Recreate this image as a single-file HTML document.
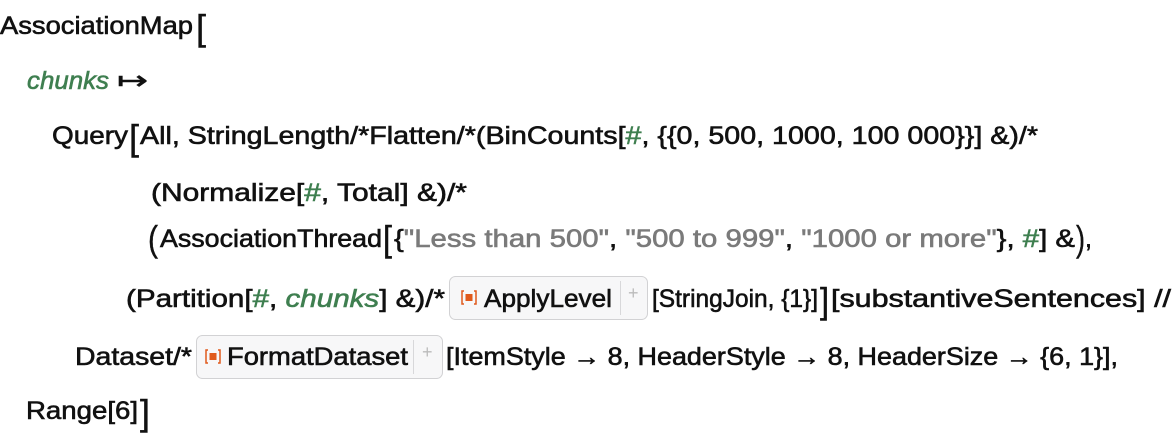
<!DOCTYPE html>
<html><head><style>
html,body{margin:0;padding:0;background:#fff;width:1176px;height:442px;overflow:hidden}
svg{display:block}
text{font-family:"Liberation Sans",sans-serif;font-size:25px;fill:#111;stroke:#111;stroke-width:0.6}
.g{fill:#3f7f50;stroke:#3f7f50;font-style:italic}
.h{fill:#3f7f50;stroke:#3f7f50}
.s{fill:#7a7a7a;stroke:#7a7a7a}
.b{font-size:36px;stroke-width:0.4}
.p{fill:#bbb;stroke:none;font-size:18px}
</style></head><body>
<svg width="1176" height="442" viewBox="0 0 1176 442">
<text x="0" y="34" textLength="193" lengthAdjust="spacingAndGlyphs">AssociationMap</text>
<text x="196" y="40" class="b" textLength="10" lengthAdjust="spacingAndGlyphs">[</text>

<text x="27" y="89" class="g" textLength="82" lengthAdjust="spacingAndGlyphs">chunks</text>
<text x="117" y="89" textLength="31" lengthAdjust="spacingAndGlyphs">↦</text>

<text x="52" y="144" textLength="76" lengthAdjust="spacingAndGlyphs">Query</text>
<text x="129" y="150" class="b" textLength="10" lengthAdjust="spacingAndGlyphs">[</text>
<text x="140" y="144" textLength="898" lengthAdjust="spacingAndGlyphs">All, StringLength/*Flatten/*(BinCounts[<tspan class="h">#</tspan>, {{0, 500, 1000, 100 000}}] &amp;)/*</text>

<text x="151" y="201" textLength="316" lengthAdjust="spacingAndGlyphs">(Normalize[<tspan class="h">#</tspan>, Total] &amp;)/*</text>

<text x="148" y="251" class="b" textLength="10" lengthAdjust="spacingAndGlyphs">(</text>
<text x="160" y="247" textLength="222" lengthAdjust="spacingAndGlyphs">AssociationThread</text>
<text x="383" y="251" class="b" textLength="9" lengthAdjust="spacingAndGlyphs">[</text>
<text x="394" y="247" textLength="681" lengthAdjust="spacingAndGlyphs">{<tspan class="s">"Less than 500"</tspan>, <tspan class="s">"500 to 999"</tspan>, <tspan class="s">"1000 or more"</tspan>}, <tspan class="h">#</tspan>] &amp;</text>
<text x="1076" y="251" class="b" textLength="9" lengthAdjust="spacingAndGlyphs">)</text>
<text x="1085" y="247">,</text>

<text x="126" y="307" textLength="319" lengthAdjust="spacingAndGlyphs">(Partition[<tspan class="h">#</tspan>, <tspan class="g">chunks</tspan>] &amp;)/*</text>
<rect x="449.5" y="276.5" width="198" height="43" rx="6" fill="#f7f7f8" stroke="#d2d2d4"/>
<line x1="620.5" y1="281" x2="620.5" y2="315" stroke="#d8d8da"/>
<text x="628" y="299" class="p">+</text>
<g fill="none" stroke="#e05a1c" stroke-width="1.5"><path d="M464 291h-2v13h2M474 291h2v13h-2"/></g>
<rect x="465.5" y="294" width="7" height="7" fill="#e05a1c"/>
<text x="484" y="307" textLength="128" lengthAdjust="spacingAndGlyphs">ApplyLevel</text>
<text x="652" y="307" textLength="166" lengthAdjust="spacingAndGlyphs">[StringJoin, {1}]</text>
<text x="820" y="313" class="b" textLength="9" lengthAdjust="spacingAndGlyphs">]</text>
<text x="831" y="307" textLength="340" lengthAdjust="spacingAndGlyphs">[substantiveSentences] //</text>

<text x="75" y="365" textLength="117" lengthAdjust="spacingAndGlyphs">Dataset/*</text>
<rect x="196.5" y="335.5" width="246" height="43" rx="6" fill="#f7f7f8" stroke="#d2d2d4"/>
<line x1="413.5" y1="340" x2="413.5" y2="374" stroke="#d8d8da"/>
<text x="422" y="358" class="p">+</text>
<g fill="none" stroke="#e05a1c" stroke-width="1.5"><path d="M208 350h-2v13h2M218 350h2v13h-2"/></g>
<rect x="209.5" y="353" width="7" height="7" fill="#e05a1c"/>
<text x="227" y="365" textLength="181" lengthAdjust="spacingAndGlyphs">FormatDataset</text>
<text x="446" y="365" textLength="672" lengthAdjust="spacingAndGlyphs">[ItemStyle → 8, HeaderStyle → 8, HeaderSize → {6, 1}],</text>

<text x="26" y="419" textLength="112" lengthAdjust="spacingAndGlyphs">Range[6]</text>
<text x="140" y="425" class="b" textLength="10" lengthAdjust="spacingAndGlyphs">]</text>
</svg>
</body></html>
